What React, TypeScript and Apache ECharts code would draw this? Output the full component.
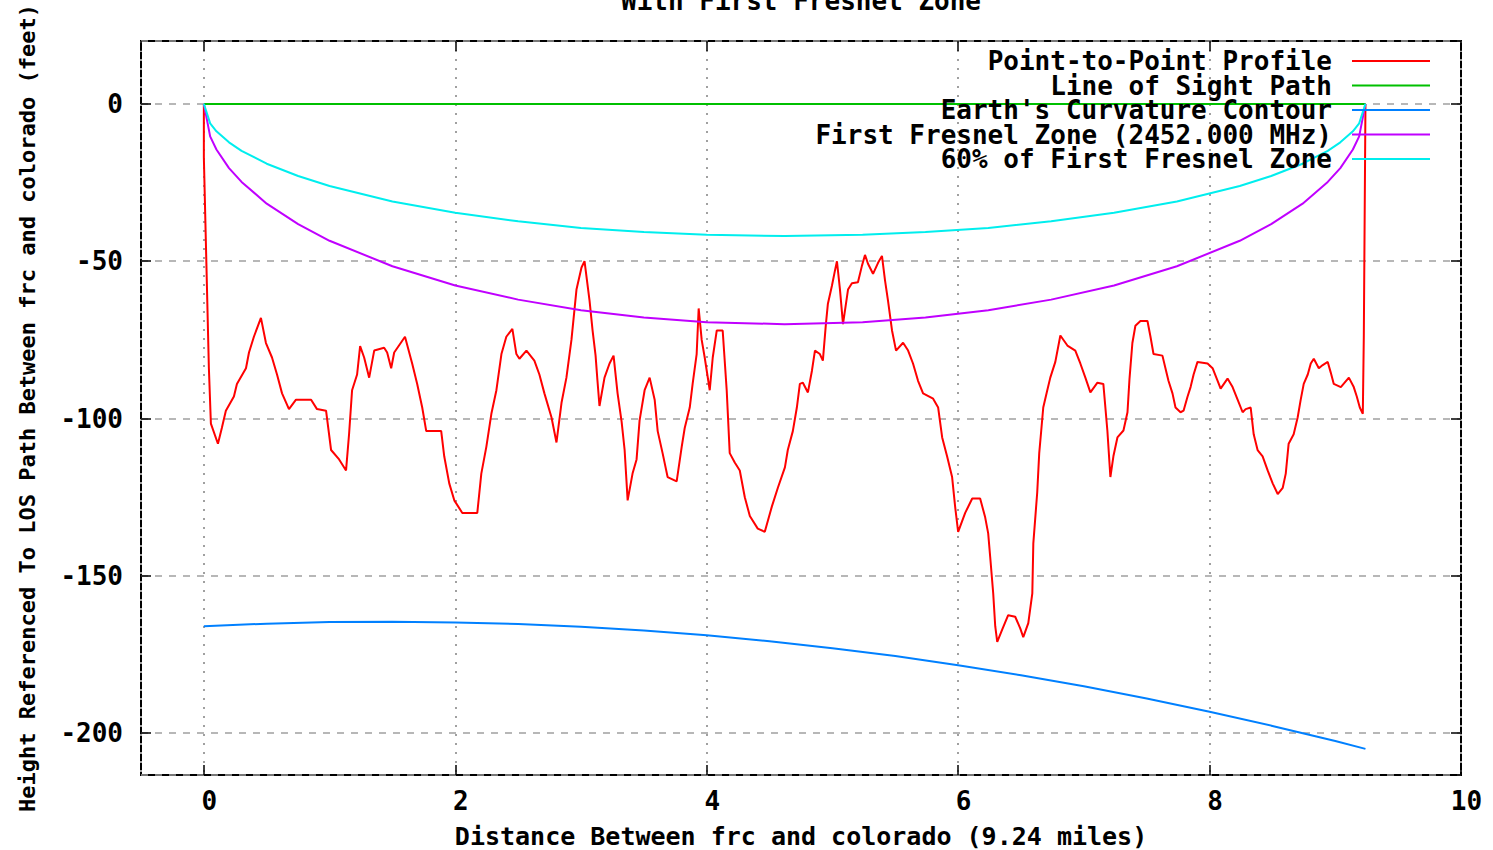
import React, { useEffect, useRef } from "react";
import * as echarts from "echarts";

const titleText = "With First Fresnel Zone";
const xAxisName = "Distance Between frc and colorado (9.24 miles)";
const yAxisName = "Height Referenced To LOS Path Between frc and colorado (feet)";

const seriesNames = [
  "Point-to-Point Profile",
  "Line of Sight Path",
  "Earth's Curvature Contour",
  "First Fresnel Zone (2452.000 MHz)",
  "60% of First Fresnel Zone",
];
const seriesColors = ["#ff0000", "#00c000", "#0080ff", "#c000ff", "#00eeee"];

// Terrain profile: [distance (miles), height relative to LOS (feet)]
const profile: [number, number][] = [
  [0, 0], [0, -17], [0.02, -50.5], [0.04, -84], [0.056, -101.6], [0.112, -108],
  [0.143, -103], [0.175, -97.5], [0.239, -93], [0.263, -89], [0.335, -84], [0.359, -79],
  [0.398, -74], [0.454, -68], [0.494, -76], [0.542, -80.6], [0.582, -86], [0.622, -92],
  [0.677, -97], [0.733, -94], [0.853, -94], [0.9, -97], [0.972, -97.5], [1.012, -110],
  [1.076, -113], [1.131, -116.5], [1.155, -105], [1.179, -91], [1.219, -86], [1.243, -77],
  [1.275, -80.6], [1.315, -87], [1.355, -78.4], [1.434, -77.5], [1.458, -79], [1.49, -84],
  [1.514, -79], [1.6, -74], [1.657, -82.5], [1.697, -89], [1.737, -96.5], [1.769, -104],
  [1.888, -104], [1.912, -112], [1.952, -120.6], [1.992, -126], [2.056, -130], [2.175, -130],
  [2.207, -117.5], [2.247, -109], [2.287, -98.5], [2.327, -91], [2.367, -79.5], [2.406, -74],
  [2.454, -71.5], [2.486, -79.5], [2.51, -81], [2.566, -78.4], [2.629, -81.6], [2.669, -86],
  [2.709, -92], [2.765, -99.6], [2.805, -107.6], [2.845, -95], [2.884, -87], [2.924, -75],
  [2.964, -59], [3.004, -52], [3.028, -50], [3.068, -62.5], [3.092, -72], [3.116, -80],
  [3.131, -88], [3.147, -96], [3.187, -87], [3.227, -82.5], [3.259, -80], [3.291, -92],
  [3.323, -101], [3.347, -110], [3.371, -126], [3.41, -117.5], [3.442, -113], [3.466, -100.6],
  [3.506, -91], [3.546, -87], [3.586, -94], [3.61, -104], [3.649, -111], [3.689, -118.6],
  [3.761, -120], [3.801, -109], [3.825, -103], [3.865, -96.5], [3.888, -89], [3.92, -79.5],
  [3.936, -65], [3.96, -75], [3.984, -80.6], [4.024, -91], [4.048, -80.6], [4.08, -72],
  [4.127, -72], [4.159, -91], [4.183, -111], [4.223, -114], [4.263, -116.5], [4.303, -125],
  [4.343, -131], [4.406, -135], [4.462, -136], [4.518, -128], [4.566, -122], [4.622, -115.5],
  [4.645, -110], [4.685, -104], [4.717, -96.5], [4.741, -89], [4.765, -88.6], [4.805, -91.7],
  [4.837, -84.8], [4.861, -78.4], [4.9, -79.5], [4.924, -81.6], [4.948, -70], [4.964, -63.5],
  [4.996, -57.8], [5.02, -53], [5.036, -50], [5.06, -59], [5.084, -70], [5.124, -59],
  [5.155, -57], [5.203, -56.7], [5.235, -51.4], [5.259, -48], [5.283, -50.8], [5.323, -54],
  [5.363, -50.5], [5.394, -48.3], [5.418, -56], [5.442, -62.5], [5.474, -72], [5.506, -78.4],
  [5.562, -75.9], [5.602, -78.4], [5.641, -82.5], [5.681, -88], [5.721, -92], [5.801, -93.7],
  [5.841, -96.5], [5.873, -106], [5.912, -112], [5.952, -118.6], [5.976, -128], [6.0, -136],
  [6.056, -130], [6.112, -125.4], [6.175, -125.4], [6.215, -131.4], [6.239, -136.5], [6.255, -144],
  [6.279, -155.6], [6.295, -166], [6.311, -171], [6.351, -167], [6.398, -162.5], [6.454, -163],
  [6.494, -166.7], [6.518, -169.5], [6.558, -165], [6.59, -155.6], [6.598, -139.7], [6.629, -123.5],
  [6.645, -111], [6.661, -103.8], [6.677, -96.5], [6.709, -91], [6.733, -87], [6.773, -82],
  [6.813, -73.6], [6.869, -76.8], [6.932, -78.4], [6.972, -82.5], [7.012, -87], [7.052, -91.7],
  [7.108, -88.6], [7.155, -89], [7.187, -103.8], [7.211, -118.6], [7.235, -112], [7.267, -106],
  [7.315, -103.8], [7.347, -98], [7.363, -87.4], [7.386, -76], [7.41, -70.5], [7.45, -69],
  [7.506, -69], [7.53, -74], [7.554, -79.5], [7.625, -80], [7.649, -84], [7.673, -88],
  [7.705, -92], [7.729, -96.5], [7.769, -98], [7.793, -97.5], [7.825, -93], [7.849, -90],
  [7.873, -86], [7.904, -82], [7.984, -82.5], [8.024, -84], [8.064, -88], [8.088, -90.5],
  [8.143, -87.3], [8.183, -90], [8.223, -94], [8.263, -98], [8.287, -97], [8.327, -96.5],
  [8.351, -105], [8.382, -110], [8.422, -112], [8.462, -116.5], [8.502, -120.6], [8.542, -124],
  [8.582, -122], [8.606, -117.5], [8.629, -108], [8.669, -105], [8.701, -99.6], [8.725, -94],
  [8.749, -89], [8.781, -86], [8.805, -82.5], [8.829, -81], [8.869, -84], [8.9, -83],
  [8.94, -82], [8.964, -85.4], [8.988, -89], [9.044, -90], [9.108, -87], [9.147, -90],
  [9.171, -93], [9.195, -96.5], [9.219, -98.5], [9.227, -73.6], [9.24, 0],
];

const losDist = [0, 9.24];
const losHeight = [0, 0];

const earthDist = [0, 0.5, 1, 1.5, 2, 2.5, 3, 3.5, 4, 4.5, 5, 5.5, 6, 6.5, 7, 7.5, 8, 8.5, 9, 9.24];
const earthHeight = [-166, -165.2, -164.7, -164.6, -164.8, -165.3, -166.2, -167.4, -168.9, -170.8,
  -173.0, -175.5, -178.4, -181.6, -185.1, -189.0, -193.2, -197.7, -202.5, -205];

const fresnelDist = [0, 0.05, 0.1, 0.2, 0.3, 0.5, 0.75, 1, 1.5, 2, 2.5, 3, 3.5, 4, 4.62, 5.24, 5.74,
  6.24, 6.74, 7.24, 7.74, 8.24, 8.49, 8.74, 8.94, 9.04, 9.14, 9.19, 9.24];
const fresnelDepth = [0, -10.3, -14.5, -20.4, -24.8, -31.7, -38.2, -43.5, -51.6, -57.7, -62.2, -65.6,
  -67.9, -69.4, -70, -69.4, -67.9, -65.6, -62.2, -57.7, -51.6, -43.5, -38.2, -31.7, -24.8, -20.4,
  -14.5, -10.3, 0];
const fresnel60Depth = [0, -6.2, -8.7, -12.2, -14.9, -19.0, -22.9, -26.1, -31.0, -34.6, -37.3, -39.4,
  -40.7, -41.6, -42.0, -41.6, -40.7, -39.4, -37.3, -34.6, -31.0, -26.1, -22.9, -19.0, -14.9, -12.2,
  -8.7, -6.2, 0];

const xMin = -0.5;
const xMax = 10;
const yMin = -213.3;
const yMax = 20;

const FONT = "'DejaVu Sans Mono', 'Liberation Mono', monospace";

const zip = (a: number[], b: number[]) => a.map((v, i) => [v, b[i]]);

export default function App() {
  const ref = useRef<HTMLDivElement>(null);
  useEffect(() => {
    const chart = echarts.init(ref.current!, null, { renderer: "svg" });
    const tickStyle = { show: true, inside: true, length: 10, lineStyle: { color: "#000", width: 1.5 } };
    const noLine = { show: false, onZero: false };
    const lineSeries = (i: number, data: number[][]) => ({
      name: seriesNames[i],
      type: "line",
      data,
      color: seriesColors[i],
      showSymbol: false,
      symbol: "none",
      lineStyle: { color: seriesColors[i], width: 2 },
      xAxisIndex: 0,
      yAxisIndex: 0,
      silent: true,
    });
    chart.setOption({
      animation: false,
      backgroundColor: "#fff",
      title: {
        text: titleText,
        left: 801,
        textAlign: "center",
        top: -12,
        padding: 0,
        textStyle: { fontFamily: FONT, fontWeight: "bold", fontSize: 26, lineHeight: 26, color: "#000" },
      },
      legend: {
        orient: "vertical",
        align: "right",
        right: 63,
        top: 48,
        padding: 0,
        itemGap: -1.5,
        itemWidth: 78,
        itemHeight: 2,
        icon: "rect",
        selectedMode: false,
        data: seriesNames,
        textStyle: {
          fontFamily: FONT,
          fontWeight: "bold",
          fontSize: 26,
          lineHeight: 24.5,
          color: "#000",
          padding: [0, 15, 0, 0],
        },
      },
      grid: {
        left: 141,
        right: 32,
        top: 41,
        bottom: 75,
        outerBoundsMode: "none",
        containLabel: false,
        show: true,
        borderColor: "#000",
        borderWidth: 2,
        backgroundColor: "transparent",
      },
      xAxis: [
        {
          type: "value",
          position: "bottom",
          min: xMin,
          max: xMax,
          splitNumber: 5,
          name: xAxisName,
          nameLocation: "middle",
          nameGap: 51,
          nameTextStyle: { fontFamily: FONT, fontWeight: "bold", fontSize: 25, lineHeight: 20, color: "#000" },
          axisLine: noLine,
          axisTick: tickStyle,
          axisLabel: {
            margin: 13,
            padding: [0, 0, 0, 11],
            showMinLabel: false,
            fontFamily: FONT,
            fontWeight: "bold",
            fontSize: 26,
            lineHeight: 26,
            color: "#000",
          },
          splitLine: { show: true, lineStyle: { color: "#a0a0a0", width: 2, type: [2, 7] } },
        },
        {
          type: "value",
          position: "top",
          min: xMin,
          max: xMax,
          splitNumber: 5,
          axisLine: noLine,
          axisTick: tickStyle,
          axisLabel: { show: false },
          splitLine: { show: false },
        },
      ],
      yAxis: [
        {
          type: "value",
          position: "left",
          min: yMin,
          max: yMax,
          splitNumber: 5,
          name: yAxisName,
          nameLocation: "middle",
          nameRotate: 90,
          nameGap: 103,
          nameTextStyle: { fontFamily: FONT, fontWeight: "bold", fontSize: 22, lineHeight: 22, color: "#000" },
          axisLine: noLine,
          axisTick: tickStyle,
          axisLabel: {
            margin: 18,
            showMinLabel: false,
            showMaxLabel: false,
            fontFamily: FONT,
            fontWeight: "bold",
            fontSize: 26,
            color: "#000",
          },
          splitLine: { show: true, lineStyle: { color: "#a0a0a0", width: 1.5, type: [7, 7] } },
        },
        {
          type: "value",
          position: "right",
          min: yMin,
          max: yMax,
          splitNumber: 5,
          axisLine: noLine,
          axisTick: tickStyle,
          axisLabel: { show: false },
          splitLine: { show: false },
        },
      ],
      series: [
        lineSeries(0, profile),
        lineSeries(1, zip(losDist, losHeight)),
        lineSeries(2, zip(earthDist, earthHeight)),
        lineSeries(3, zip(fresnelDist, fresnelDepth)),
        lineSeries(4, zip(fresnelDist, fresnel60Depth)),
      ],
    });
    return () => chart.dispose();
  }, []);
  return (
    <div
      ref={ref}
      style={{ position: "fixed", left: 0, top: 0, width: 1493, height: 850, background: "#fff" }}
    />
  );
}
